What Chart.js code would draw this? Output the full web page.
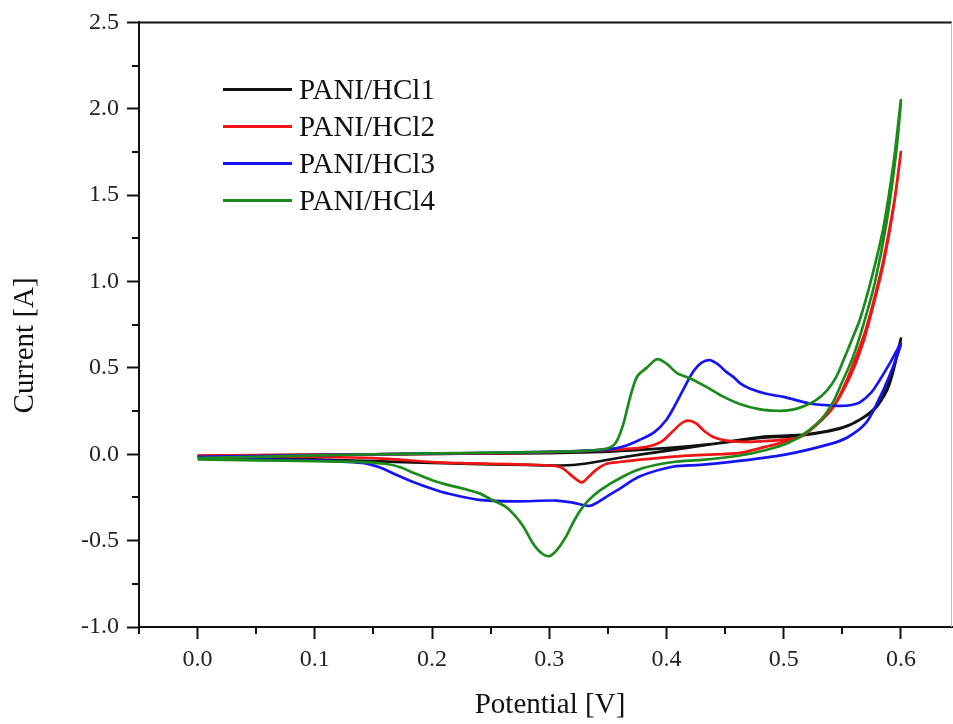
<!DOCTYPE html>
<html>
<head>
<meta charset="utf-8">
<title>PANI/HCl cyclic voltammetry</title>
<script src="https://cdn.jsdelivr.net/npm/chart.js@4.4.1/dist/chart.umd.min.js"></script>
<style>
  html, body { margin: 0; padding: 0; background: #fff; }
  #wrap { width: 953px; height: 724px; }
</style>
</head>
<body>
<div id="wrap"><canvas id="cv" width="953" height="724"></canvas></div>
<script>
// ---- data: [potential V, current A], scan 0 -> 0.6 -> 0 ----
const seriesNames = ['PANI/HCl1', 'PANI/HCl2', 'PANI/HCl3', 'PANI/HCl4'];
const seriesColors = ['#111111', '#f01414', '#1414f0', '#1b8a1b'];

const hcl1 = [
  [0,-0.01],[0.05,-0.006],[0.1,-0.003],[0.15,0],[0.2,0.002],[0.25,0.004],[0.3,0.007],
  [0.35,0.015],[0.4,0.035],[0.44,0.06],[0.48,0.095],[0.51,0.105],[0.54,0.135],[0.555,0.165],
  [0.57,0.22],[0.58,0.28],[0.59,0.4],[0.6,0.67],
  [0.59,0.42],[0.58,0.285],[0.565,0.2],[0.55,0.155],[0.52,0.115],[0.48,0.1],[0.44,0.06],
  [0.4,0.02],[0.36,-0.02],[0.33,-0.055],[0.31,-0.065],[0.28,-0.062],[0.25,-0.058],
  [0.2,-0.05],[0.15,-0.04],[0.1,-0.03],[0.05,-0.02],[0,-0.012]
];

const hcl2 = [
  [0,-0.008],[0.05,-0.005],[0.1,-0.002],[0.15,0],[0.2,0.002],[0.25,0.005],[0.3,0.012],
  [0.35,0.025],[0.38,0.04],[0.395,0.07],[0.405,0.13],[0.412,0.175],[0.418,0.195],[0.425,0.18],
  [0.433,0.13],[0.44,0.1],[0.45,0.08],[0.465,0.072],[0.48,0.075],[0.5,0.085],[0.514,0.1],
  [0.528,0.17],[0.542,0.27],[0.552,0.4],[0.561,0.55],[0.57,0.72],[0.578,0.92],[0.585,1.12],
  [0.594,1.45],[0.6,1.75],
  [0.594,1.44],[0.585,1.1],[0.576,0.85],[0.567,0.63],[0.556,0.44],[0.542,0.27],[0.528,0.175],
  [0.514,0.1],[0.5,0.07],[0.485,0.044],[0.463,0.008],[0.43,-0.004],[0.406,-0.014],
  [0.38,-0.03],[0.36,-0.045],[0.349,-0.055],[0.34,-0.09],[0.333,-0.135],[0.328,-0.163],
  [0.322,-0.14],[0.315,-0.1],[0.31,-0.075],[0.3,-0.065],[0.28,-0.06],[0.25,-0.055],
  [0.2,-0.045],[0.17,-0.03],[0.15,-0.022],[0.11,-0.016],[0.05,-0.012],[0,-0.01]
];

const hcl3 = [
  [0,-0.015],[0.05,-0.01],[0.1,-0.005],[0.15,0],[0.2,0.004],[0.25,0.008],[0.3,0.014],
  [0.33,0.02],[0.35,0.028],[0.363,0.045],[0.377,0.083],[0.39,0.13],[0.4,0.2],[0.407,0.28],
  [0.414,0.37],[0.423,0.48],[0.43,0.53],[0.437,0.545],[0.444,0.52],[0.451,0.477],
  [0.457,0.448],[0.463,0.41],[0.471,0.38],[0.485,0.35],[0.5,0.332],[0.522,0.294],
  [0.535,0.285],[0.548,0.28],[0.558,0.285],[0.565,0.3],[0.575,0.36],[0.582,0.43],
  [0.59,0.52],[0.6,0.64],
  [0.59,0.45],[0.58,0.3],[0.57,0.18],[0.555,0.1],[0.54,0.06],[0.5,-0.004],[0.457,-0.043],
  [0.429,-0.062],[0.406,-0.071],[0.377,-0.129],[0.36,-0.2],[0.349,-0.245],[0.335,-0.298],
  [0.32,-0.28],[0.306,-0.268],[0.27,-0.273],[0.24,-0.264],[0.212,-0.225],[0.2,-0.2],
  [0.184,-0.16],[0.17,-0.12],[0.155,-0.075],[0.14,-0.05],[0.1,-0.035],[0.05,-0.03],[0,-0.02]
];

const hcl4 = [
  [0,-0.022],[0.05,-0.015],[0.1,-0.006],[0.15,0],[0.2,0.005],[0.25,0.009],[0.3,0.014],
  [0.33,0.02],[0.35,0.035],[0.357,0.07],[0.363,0.17],[0.369,0.33],[0.375,0.45],[0.383,0.5],
  [0.392,0.55],[0.4,0.525],[0.409,0.47],[0.42,0.44],[0.434,0.39],[0.448,0.335],[0.463,0.29],
  [0.48,0.26],[0.494,0.252],[0.505,0.255],[0.514,0.27],[0.527,0.31],[0.537,0.37],
  [0.545,0.45],[0.551,0.544],[0.558,0.66],[0.565,0.78],[0.575,1.02],[0.585,1.31],
  [0.594,1.7],[0.6,2.05],
  [0.596,1.75],[0.588,1.35],[0.578,1.0],[0.568,0.75],[0.559,0.56],[0.55,0.42],[0.542,0.3],
  [0.532,0.2],[0.522,0.14],[0.505,0.07],[0.485,0.025],[0.46,-0.01],[0.43,-0.033],
  [0.406,-0.045],[0.38,-0.08],[0.363,-0.129],[0.343,-0.21],[0.333,-0.27],[0.326,-0.33],
  [0.32,-0.4],[0.314,-0.48],[0.307,-0.55],[0.3,-0.59],[0.293,-0.57],[0.286,-0.515],
  [0.278,-0.42],[0.27,-0.35],[0.262,-0.3],[0.25,-0.26],[0.24,-0.225],[0.227,-0.2],
  [0.215,-0.18],[0.2,-0.15],[0.185,-0.11],[0.173,-0.075],[0.16,-0.055],[0.14,-0.045],
  [0.1,-0.04],[0.05,-0.035],[0,-0.03]
];

const xTicks = [0, 0.1, 0.2, 0.3, 0.4, 0.5, 0.6];
const xMinor = [-0.05, 0.05, 0.15, 0.25, 0.35, 0.45, 0.55];
const yTicks = [-1.0, -0.5, 0, 0.5, 1.0, 1.5, 2.0, 2.5];
const yMinor = [-0.75, -0.25, 0.25, 0.75, 1.25, 1.75, 2.25];

const xTitle = 'Potential [V]';
const yTitle = 'Current [A]';

const SERIF = '"Liberation Serif", "Times New Roman", serif';
const INK = '#111';

// frame, minor ticks, axis titles and the inset legend
const decor = {
  id: 'decor',
  afterDraw(chart) {
    const { ctx, chartArea: a, scales: { x, y } } = chart;
    ctx.save();

    ctx.strokeStyle = INK;
    ctx.lineWidth = 2;
    ctx.beginPath();
    ctx.moveTo(a.left - 1, a.top);
    ctx.lineTo(a.right, a.top);
    ctx.stroke();

    ctx.strokeStyle = '#bbb';
    ctx.lineWidth = 1;
    ctx.beginPath();
    ctx.moveTo(a.right - 0.5, a.top);
    ctx.lineTo(a.right - 0.5, a.bottom);
    ctx.stroke();

    ctx.strokeStyle = INK;
    ctx.lineWidth = 2;
    ctx.beginPath();
    xMinor.forEach(v => {
      const px = Math.round(x.getPixelForValue(v));
      ctx.moveTo(px, a.bottom);
      ctx.lineTo(px, a.bottom + 7);
    });
    yMinor.forEach(v => {
      const py = Math.round(y.getPixelForValue(v));
      ctx.moveTo(a.left, py);
      ctx.lineTo(a.left - 7, py);
    });
    ctx.stroke();

    ctx.fillStyle = INK;
    ctx.font = '29px ' + SERIF;
    ctx.textAlign = 'center';
    ctx.textBaseline = 'alphabetic';
    ctx.fillText(xTitle, a.left + 411, a.bottom + 86);

    ctx.save();
    ctx.translate(33, a.top + 323);
    ctx.rotate(-Math.PI / 2);
    ctx.fillText(yTitle, 0, 0);
    ctx.restore();

    ctx.font = '29px ' + SERIF;
    ctx.textAlign = 'left';
    chart.data.datasets.forEach((ds, i) => {
      const ly = a.top + 67 + i * 37;
      ctx.strokeStyle = ds.borderColor;
      ctx.lineWidth = 3;
      ctx.beginPath();
      ctx.moveTo(a.left + 84, ly);
      ctx.lineTo(a.left + 153, ly);
      ctx.stroke();
      ctx.fillStyle = INK;
      ctx.fillText(ds.label, a.left + 160, ly + 10);
    });

    ctx.restore();
  }
};

const curves = [hcl1, hcl2, hcl3, hcl4];
const datasets = curves.map((pts, i) => ({
  label: seriesNames[i],
  data: pts.map(p => ({ x: p[0], y: p[1] })),
  borderColor: seriesColors[i],
  borderWidth: 2.7,
  showLine: true,
  pointRadius: 0,
  tension: 0.3,
  order: curves.length - i
}));

const tickFont = { family: SERIF, size: 24 };

new Chart(document.getElementById('cv'), {
  type: 'scatter',
  data: { datasets },
  options: {
    responsive: false,
    animation: false,
    layout: { padding: { top: 21, right: 1, left: 0, bottom: 0 } },
    plugins: { legend: { display: false }, tooltip: { enabled: false } },
    scales: {
      x: {
        type: 'linear',
        min: -0.05,
        max: 0.6436,
        afterBuildTicks: s => { s.ticks = xTicks.map(v => ({ value: v })); },
        afterFit: s => { s.height = 97; },
        grid: { drawOnChartArea: false, drawTicks: true, tickLength: 12, tickWidth: 2, tickColor: INK },
        border: { display: true, color: INK, width: 2 },
        ticks: { font: tickFont, color: '#222', padding: 6, autoSkip: false, maxRotation: 0,
                 callback: v => Number(v).toFixed(1) }
      },
      y: {
        type: 'linear',
        min: -1.0,
        max: 2.5,
        afterBuildTicks: s => { s.ticks = yTicks.map(v => ({ value: v })); },
        afterFit: s => { s.width = 139; },
        grid: { drawOnChartArea: false, drawTicks: true, tickLength: 12, tickWidth: 2, tickColor: INK },
        border: { display: true, color: INK, width: 2 },
        ticks: { font: tickFont, color: '#222', padding: 8, autoSkip: false,
                 callback: v => Number(v).toFixed(1) }
      }
    }
  },
  plugins: [decor]
});
</script>
</body>
</html>
